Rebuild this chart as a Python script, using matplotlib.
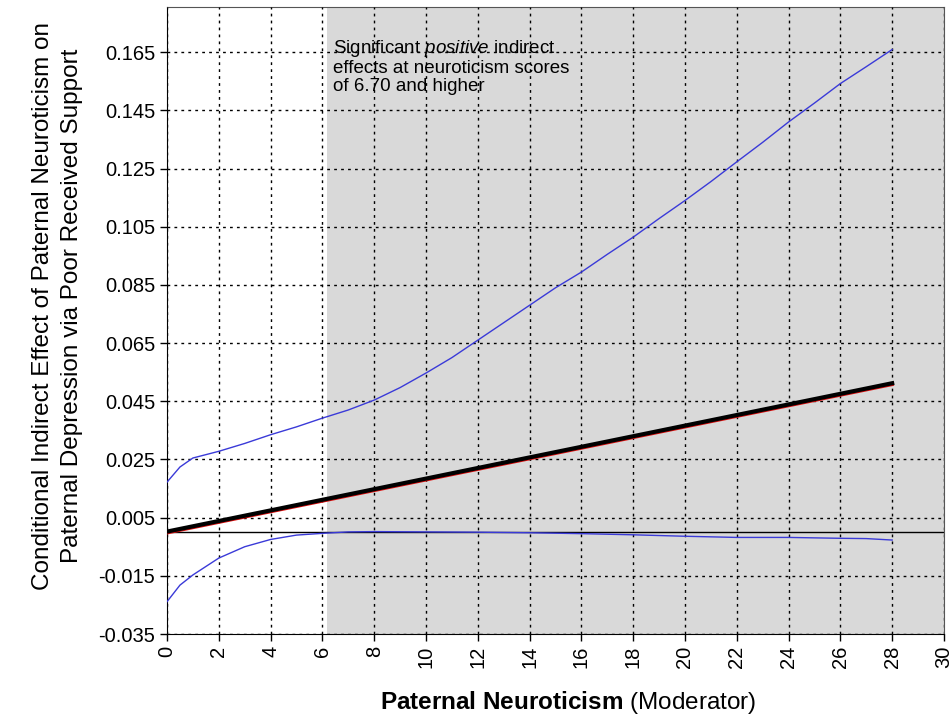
import numpy as np
import matplotlib.pyplot as plt

plt.rcParams['font.family'] = ['Liberation Sans', 'DejaVu Sans']
plt.rcParams['mathtext.fontset'] = 'custom'
plt.rcParams['mathtext.rm'] = 'Liberation Sans'
plt.rcParams['mathtext.it'] = 'Liberation Sans:italic'
plt.rcParams['mathtext.bf'] = 'Liberation Sans:bold'

# moderator values and estimates
x_est = [0, 28]
y_est = [0.0002, 0.0512]

x_up = [0, 0.5, 1, 2, 3, 4, 5, 6, 7, 8, 9, 10, 11, 12, 13, 14, 15, 16, 17, 18,
        19, 20, 21, 22, 23, 24, 25, 26, 27, 28]
y_up = [0.0172, 0.0224, 0.0255, 0.0278, 0.0305, 0.0335, 0.0362, 0.0392, 0.0420,
        0.0454, 0.0497, 0.0547, 0.0600, 0.0660, 0.0720, 0.0780, 0.0840, 0.0894,
        0.0955, 0.1014, 0.1078, 0.1140, 0.1205, 0.1273, 0.1340, 0.1410, 0.1475,
        0.1542, 0.1600, 0.1659]

x_lo = [0, 0.5, 1, 2, 3, 4, 5, 6, 7, 8, 10, 12, 14, 16, 18, 20, 22, 24, 26, 27, 28]
y_lo = [-0.0239, -0.0182, -0.0147, -0.0089, -0.0050, -0.0025, -0.0010, -0.0004,
        0.0001, 0.0002, 0.0001, 0.0000, -0.0002, -0.0005, -0.0009, -0.0014,
        -0.0018, -0.0018, -0.0021, -0.0022, -0.0027]

jn_point = 6.17
x_ticks = np.arange(0, 31, 2)
y_ticks = np.arange(-0.035, 0.1651, 0.02)

fig = plt.figure(figsize=(9.51, 7.19), dpi=100)
ax = fig.add_axes([0.1756, 0.1182, 0.817, 0.872])

ax.axvspan(jn_point, 30, color='#d9d9d9', zorder=0, lw=0)
ax.axhline(0, color='black', lw=1, zorder=2)

ax.plot(x_up, y_up, color='#3a3ad8', lw=1, zorder=3)
ax.plot(x_lo, y_lo, color='#3a3ad8', lw=1, zorder=3)
ax.plot(x_est, np.array(y_est) - 0.0004, color='#e01010', lw=2.5, zorder=4)
ax.plot(x_est, y_est, color='black', lw=3, zorder=5)

ax.set_xlim(0, 30)
ax.set_ylim(-0.035, 0.1805)
ax.set_xticks(x_ticks)
ax.set_xticklabels([str(v) for v in x_ticks], rotation=90)
ax.set_yticks(y_ticks)
ax.set_yticklabels(['%.3f' % v for v in y_ticks])
ax.tick_params(labelsize=14.5, length=5, width=1, direction='out')
ax.grid(True, color='black', linestyle=(0, (2, 3)), lw=1)
ax.set_axisbelow(False)
for s in ['top', 'right']:
    ax.spines[s].set_color('#555555')

ax.text(6.4, 0.170, 'Significant $\\it{positive}$ indirect\neffects at neuroticism scores\nof 6.70 and higher',
        fontsize=13.5, va='top', ha='left', linespacing=1.1, zorder=6)

ax.set_ylabel('Conditional Indirect Effect of Paternal Neuroticism on\nPaternal Depression via Poor Received Support',
              fontsize=17.5, linespacing=1.4)
ax.yaxis.set_label_coords(-0.108, 0.523)
ax.set_xlabel('$\\bf{Paternal\\ Neuroticism}$ (Moderator)', fontsize=17.5)
ax.xaxis.set_label_coords(0.516, -0.088)

fig.savefig('out.png', dpi=100)
